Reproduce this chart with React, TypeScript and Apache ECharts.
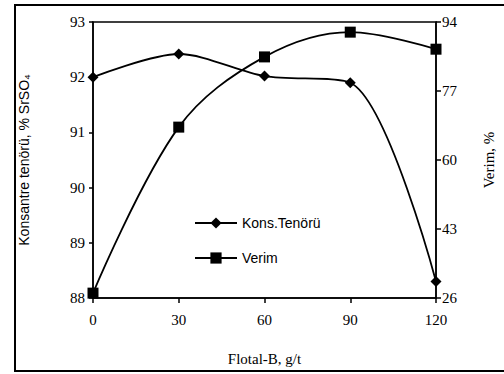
import React, { useEffect, useRef } from "react";
import * as echarts from "echarts";

const doses = [0, 30, 60, 90, 120];
const konsTenoru = [92.0, 92.42, 92.02, 91.9, 88.3];
const verim = [27.2, 68.1, 85.4, 91.5, 87.3];
const leftTicks = [88, 89, 90, 91, 92, 93];
const rightTicks = [26, 43, 60, 77, 94];

const serif = "Liberation Serif";
const sans = "Liberation Sans";

export default function App() {
  const ref = useRef<HTMLDivElement>(null);
  useEffect(() => {
    const chart = echarts.init(ref.current!, null, { renderer: "svg" });
    chart.setOption({
      animation: false,
      backgroundColor: "#fff",
      grid: { left: 93, right: 68, top: 22, bottom: 76, show: true, borderColor: "#000", borderWidth: 1.5 },
      legend: {
        left: 189,
        top: 211,
        orient: "vertical",
        itemWidth: 42,
        itemHeight: 14,
        itemGap: 21,
        textStyle: { fontFamily: sans, fontSize: 14, color: "#000" },
        data: ["Kons.Tenörü", "Verim"],
      },
      xAxis: {
        type: "value",
        min: doses[0],
        max: doses[doses.length - 1],
        interval: 30,
        name: "Flotal-B, g/t",
        nameLocation: "middle",
        nameGap: 53,
        nameTextStyle: { fontFamily: serif, fontSize: 15, color: "#000" },
        axisLine: { lineStyle: { color: "#000", width: 1.5 } },
        axisTick: { length: 5, lineStyle: { color: "#000", width: 1.5 } },
        axisLabel: { fontFamily: serif, fontSize: 15, color: "#000", margin: 14 },
        splitLine: { show: false },
      },
      yAxis: [
        {
          type: "value",
          min: leftTicks[0],
          max: leftTicks[leftTicks.length - 1],
          interval: 1,
          name: "Konsantre tenörü, % SrSO\u2084",
          nameLocation: "middle",
          nameGap: 62,
          nameTextStyle: { fontFamily: sans, fontSize: 14, color: "#000" },
          axisLine: { show: true, lineStyle: { color: "#000", width: 1.5 } },
          axisTick: { show: true, length: 4, lineStyle: { color: "#000", width: 1.5 } },
          axisLabel: { fontFamily: serif, fontSize: 15, color: "#000", margin: 8 },
          splitLine: { show: false },
        },
        {
          type: "value",
          min: rightTicks[0],
          max: rightTicks[rightTicks.length - 1],
          interval: 17,
          name: "Verim, %",
          nameLocation: "middle",
          nameGap: 45,
          nameTextStyle: { fontFamily: serif, fontSize: 15, color: "#000" },
          position: "right",
          axisLine: { show: true, lineStyle: { color: "#000", width: 1.5 } },
          axisTick: { show: true, length: 5, lineStyle: { color: "#000", width: 1.5 } },
          axisLabel: { fontFamily: serif, fontSize: 15, color: "#000", margin: 6 },
          splitLine: { show: false },
        },
      ],
      series: [
        {
          name: "Kons.Tenörü",
          type: "line",
          yAxisIndex: 0,
          smooth: 0.3,
          symbol: "diamond",
          symbolSize: 11,
          itemStyle: { color: "#000" },
          lineStyle: { color: "#000", width: 1.8 },
          data: doses.map((d, i) => [d, konsTenoru[i]]),
        },
        {
          name: "Verim",
          type: "line",
          yAxisIndex: 1,
          smooth: 0.35,
          symbol: "rect",
          symbolSize: 11,
          itemStyle: { color: "#000" },
          lineStyle: { color: "#000", width: 1.8 },
          data: doses.map((d, i) => [d, verim[i]]),
        },
      ],
      graphic: [
        {
          type: "polyline",
          shape: { points: [[504, 5], [15, 5], [15, 371], [504, 371]] },
          style: { stroke: "#000", lineWidth: 2, fill: "none" },
          silent: true,
        },
      ],
    });
    return () => chart.dispose();
  }, []);
  return <div ref={ref} style={{ width: 504, height: 374, position: "absolute", left: 0, top: 0 }} />;
}
